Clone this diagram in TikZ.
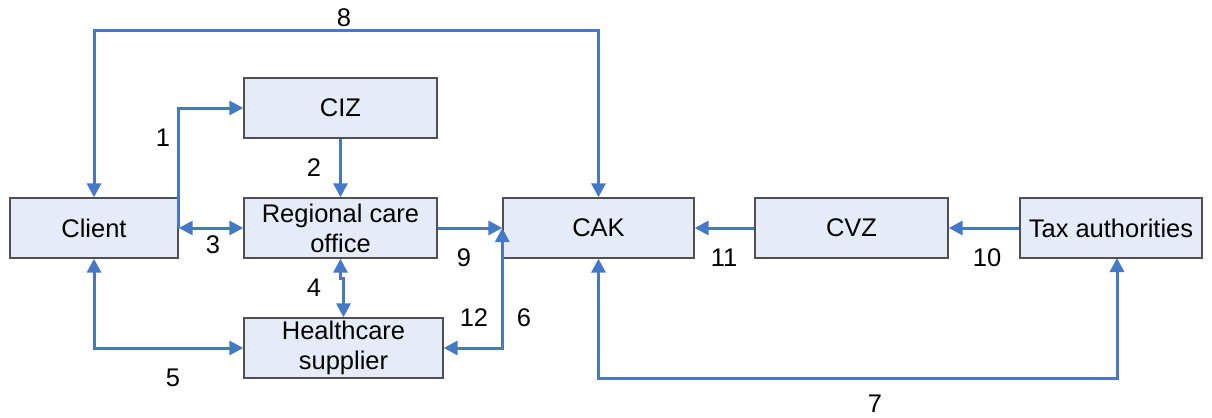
\documentclass[tikz,border=0pt]{standalone}
\usepackage{fontspec}
\setmainfont{Liberation Sans}
\usetikzlibrary{arrows.meta}
\definecolor{boxfill}{RGB}{230,236,247}
\definecolor{boxline}{RGB}{80,80,80}
\definecolor{conn}{RGB}{70,120,200}
\begin{document}
\begin{tikzpicture}[x=0.5pt,y=-0.5pt,
  font=\fontsize{12.75}{15}\selectfont,
  entity/.style={draw=boxline,fill=boxfill,line width=0.7pt,minimum height=30pt,inner sep=0pt,align=center},
  conline/.style={draw=conn,line width=1.5pt,>={Triangle[length=7pt,width=7pt]}},
  lbl/.style={inner sep=0pt}]
\useasboundingbox (0,0) rectangle (1212,418);
\node[entity,minimum width=84pt] (client) at (94,228) {Client};
\node[entity,minimum width=96.5pt] (ciz) at (340.5,108) {CIZ};
\node[entity,minimum width=96.5pt] (reg) at (340.5,228) {Regional care\\office};
\node[entity,minimum width=99.5pt] (hs) at (343.5,348) {Healthcare\\supplier};
\node[entity,minimum width=95.5pt] (cak) at (598.5,228) {CAK};
\node[entity,minimum width=96.5pt] (cvz) at (851.5,228) {CVZ};
\node[entity,minimum width=91pt] (tax) at (1111,228) {Tax authorities};
\coordinate (t8) at (340,30);
\coordinate (b7) at (850,378);
\coordinate (taxin) at (1117,258);
% connectors
\draw[conline,<->] (client.north) |- (t8) -| (cak.north);
\draw[conline,->] (client.east) |- (ciz.west);
\draw[conline,<->] (client.east) -- (reg.west);
\draw[conline,->] (ciz.south) -- (reg.north);
\draw[conline,<->] (reg.south) -- ++(0,20) -| (hs.north);
\draw[conline,<->] (client.south) |- (hs.west);
\draw[conline,->] (reg.east) -- (cak.west);
\draw[conline,<->] (hs.east) -| (cak.west);
\draw[conline,->] (cvz.west) -- (cak.east);
\draw[conline,->] (tax.west) -- (cvz.east);
\draw[conline,<->] (cak.south) |- (b7) -| (taxin);
% labels
\node[lbl] (l8) at (344,18) {8};
\node[lbl] (l1) at (163,138) {1};
\node[lbl] (l2) at (314,168) {2};
\node[lbl] (l3) at (213,245) {3};
\node[lbl] (l9) at (464,258) {9};
\node[lbl] (l4) at (314,288) {4};
\node[lbl] (l12) at (474,318) {12};
\node[lbl] (l6) at (524,318) {6};
\node[lbl] (l5) at (173,378) {5};
\node[lbl] (l11) at (724,258) {11};
\node[lbl] (l10) at (987,258) {10};
\node[lbl] (l7) at (875,404) {7};
\end{tikzpicture}
\end{document}
